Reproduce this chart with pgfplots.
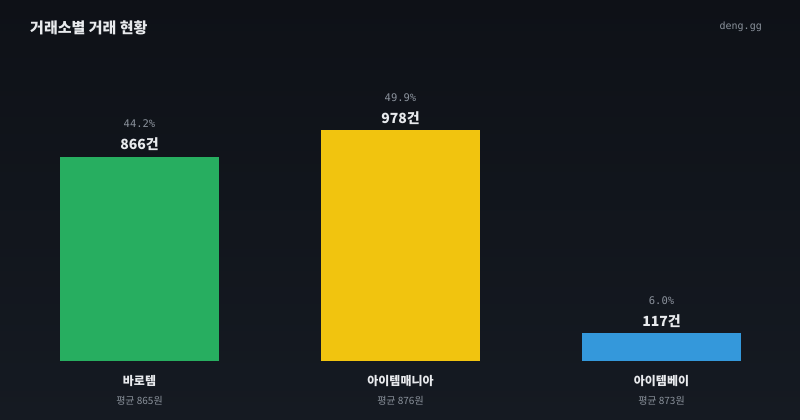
\documentclass[border=0pt]{standalone}
\usepackage{pgfplots}
\usepackage{pgfplotstable}
\pgfplotsset{compat=1.18}
\usepackage{fontspec}
\setmainfont{Noto Sans CJK KR}
\newfontfamily\mono{DejaVu Sans Mono}

\definecolor{bgtop}{HTML}{0E1117}
\definecolor{bgbot}{HTML}{151A22}
\definecolor{cgreen}{HTML}{27AE60}
\definecolor{cyellow}{HTML}{F1C40F}
\definecolor{cblue}{HTML}{3498DB}
\definecolor{txt}{HTML}{E8EAED}
\definecolor{sub}{HTML}{8B929C}

\pgfplotstableread{
x y pct
0 866 44.2
1 978 49.9
2 117 6.0
}\trades

\begin{document}
\begin{tikzpicture}
\fill[top color=bgtop, bottom color=bgbot] (0,0) rectangle (800pt,420pt);
\useasboundingbox (0,0) rectangle (800pt,420pt);
\node[anchor=west, text=txt, font=\fontsize{15}{18}\selectfont\bfseries, inner sep=0pt] at (30pt,392pt) {거래소별 거래 현황};
\node[anchor=east, text=sub, font=\mono\fontsize{10}{12}\selectfont, inner sep=0pt] at (762pt,393pt) {deng.gg};

\begin{axis}[
  at={(9pt,59pt)}, anchor=south west,
  scale only axis,
  width=783pt, height=283pt,
  xmin=-0.5, xmax=2.5, ymin=0, ymax=1200,
  axis line style={draw=none},
  tick style={draw=none},
  ytick=\empty,
  xtick={0,1,2},
  xticklabels={
    {\fontsize{12}{14}\selectfont\bfseries 바로템\\[7pt]{\color{sub}\fontsize{10}{12}\selectfont 평균 865원}},
    {\fontsize{12}{14}\selectfont\bfseries 아이템매니아\\[7pt]{\color{sub}\fontsize{10}{12}\selectfont 평균 876원}},
    {\fontsize{12}{14}\selectfont\bfseries 아이템베이\\[7pt]{\color{sub}\fontsize{10}{12}\selectfont 평균 873원}}},
  xticklabel style={align=center, text=txt, anchor=north, yshift=-7pt},
  clip=false,
  ybar, bar width=159pt,
  every axis plot/.append style={bar shift=0pt, draw=none},
  point meta=explicit symbolic,
  visualization depends on={y \as \rawy},
  nodes near coords={{\mono\fontsize{10.5}{12}\selectfont\color{sub}\pgfplotspointmeta\%}\\[10pt]{\fontsize{14}{16}\selectfont\bfseries\color{txt}\pgfmathprintnumber[fixed,precision=0,assume math mode=true]{\rawy}건}},
  nodes near coords style={anchor=south, align=center, inner sep=0pt, yshift=6pt},
]
\addplot[fill=cgreen, restrict x to domain=-0.1:0.1] table[x=x, y=y, meta=pct] {\trades};
\addplot[fill=cyellow, restrict x to domain=0.9:1.1] table[x=x, y=y, meta=pct] {\trades};
\addplot[fill=cblue, restrict x to domain=1.9:2.1] table[x=x, y=y, meta=pct] {\trades};
\end{axis}
\end{tikzpicture}
\end{document}
